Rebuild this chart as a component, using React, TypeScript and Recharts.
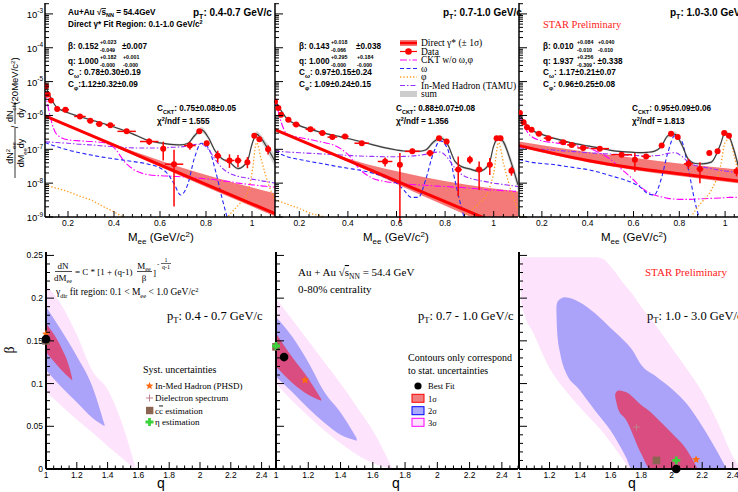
import React from "react";
import { ComposedChart, Line, Area, Scatter, XAxis, YAxis, ErrorBar } from "recharts";

const SANS = "'Liberation Sans', Arial, Helvetica, sans-serif";
const SERIF = "'Liberation Serif', 'Times New Roman', serif";

// ---------- top row: dielectron mass spectra (values are log10 of the yield) ----------
const MASS = [0.1, 0.15, 0.2, 0.25, 0.3, 0.35, 0.4, 0.45, 0.5, 0.55, 0.6, 0.63, 0.66, 0.69, 0.72, 0.75, 0.78, 0.81, 0.84, 0.87, 0.9, 0.94, 0.98, 1.0, 1.02, 1.04, 1.07, 1.1];

const SUM_1 = [-5.1, -5.75, -5.92, -6.03, -6.13, -6.23, -6.34, -6.46, -6.6, -6.74, -6.81, -6.84, -6.86, -6.87, -6.83, -6.6, -6.42, -6.65, -7.05, -7.28, -7.37, -7.57, -7.35, -6.85, -6.55, -6.68, -7.0, -7.35];
const CKT_1 = [-5.3, -6.55, -6.72, -6.75, -6.77, -6.8, -6.95, -7.4, -7.65, -7.75, -7.78, -7.79, -7.8, -7.81, -7.82, -7.84, -7.86, -7.88, -7.9, -7.93, -7.95, -8.0, -8.03, -8.05, -8.06, -8.08, -8.1, -8.12];
const TAMU_1 = [-6.78, -6.8, -6.82, -6.85, -6.87, -6.9, -6.92, -6.95, -6.96, -6.96, -6.96, -6.95, -6.94, -6.93, -6.9, -6.86, -6.85, -7.0, -7.3, -7.55, -7.7, -7.8, -7.85, -7.88, -7.9, -7.93, -7.96, -8.0];
const OMEGA_1 = [-6.8, -6.92, -7.02, -7.1, -7.17, -7.23, -7.28, -7.33, -7.38, -7.44, -7.55, -7.7, -8.0, -8.35, -8.05, -7.25, -6.82, -6.95, -7.6, -8.45, -9.2, -10, -10, -10, -10, -10, -10, -10];
const PHI_1 = [-8.05, -8.15, -8.25, -8.38, -8.5, -8.68, -8.85, -9.05, -9.3, -9.6, -10, -10, -10, -10, -10, -10, -10, -10, -9.5, -9.2, -8.95, -8.65, -8.3, -7.7, -6.8, -7.3, -8.0, -8.5];

const SUM_2 = [-5.55, -6.1, -6.3, -6.42, -6.52, -6.6, -6.68, -6.77, -6.86, -6.95, -7.02, -7.05, -7.06, -7.06, -7.02, -6.8, -6.67, -6.85, -7.35, -7.52, -7.58, -7.65, -7.45, -6.9, -6.65, -6.78, -7.35, -8.05];
const CKT_2 = [-5.5, -6.55, -6.65, -6.72, -6.8, -6.9, -7.15, -7.6, -7.85, -7.95, -8.0, -8.02, -8.04, -8.05, -8.06, -8.08, -8.09, -8.1, -8.12, -8.13, -8.15, -8.17, -8.2, -8.2, -8.21, -8.22, -8.23, -8.25];
const TAMU_2 = [-7.05, -7.08, -7.1, -7.12, -7.14, -7.16, -7.18, -7.2, -7.21, -7.22, -7.22, -7.21, -7.2, -7.18, -7.15, -7.1, -7.08, -7.25, -7.55, -7.75, -7.85, -7.92, -7.97, -8.0, -8.02, -8.04, -8.07, -8.1];
const OMEGA_2 = [-7.06, -7.22, -7.3, -7.37, -7.43, -7.5, -7.56, -7.62, -7.7, -7.82, -8.0, -8.2, -8.42, -8.42, -7.9, -7.15, -6.75, -6.98, -7.9, -8.8, -9.5, -10, -10, -10, -10, -10, -10, -10];
const PHI_2 = [-8.49, -8.62, -8.75, -8.9, -9.0, -9.3, -10, -10, -10, -10, -10, -10, -10, -10, -10, -10, -10, -10, -10, -9.1, -8.85, -8.6, -8.2, -7.7, -6.8, -7.4, -8.2, -8.8];

const SUM_3 = [-5.95, -6.4, -6.56, -6.67, -6.76, -6.84, -6.9, -6.96, -7.03, -7.07, -7.09, -7.1, -7.09, -7.06, -6.93, -6.6, -6.55, -6.85, -7.3, -7.42, -7.43, -7.38, -6.85, -6.5, -6.65, -7.05, -7.8, -8.3];
const CKT_3 = [-6.0, -6.6, -6.75, -6.8, -6.85, -6.9, -6.95, -7.1, -7.3, -7.6, -7.9, -8.1, -8.25, -8.35, -8.4, -8.45, -8.47, -8.48, -8.48, -8.47, -8.46, -8.45, -8.44, -8.43, -8.42, -8.42, -8.41, -8.4];
const TAMU_3 = [-6.95, -6.98, -7.0, -7.02, -7.05, -7.07, -7.1, -7.12, -7.14, -7.16, -7.18, -7.19, -7.2, -7.19, -7.17, -7.12, -7.1, -7.2, -7.38, -7.48, -7.52, -7.57, -7.62, -7.64, -7.66, -7.68, -7.7, -7.72];
const OMEGA_3 = [-7.3, -7.38, -7.42, -7.45, -7.5, -7.55, -7.6, -7.68, -7.78, -7.88, -8.0, -8.12, -8.3, -8.35, -7.9, -7.1, -6.6, -6.75, -7.6, -8.6, -9.3, -10, -10, -10, -10, -10, -10, -10];
const PHI_3 = [-8.97, -9.05, -10, -10, -10, -10, -10, -10, -10, -10, -10, -10, -10, -10, -10, -10, -10, -10, -9.2, -8.8, -8.55, -8.2, -7.5, -6.8, -6.7, -7.2, -8.0, -8.6];

// half width (in decades) of the grey uncertainty band on the sum
const SUM_BAND = [0.04, 0.03, 0.03, 0.03, 0.03, 0.03, 0.03, 0.03, 0.03, 0.03, 0.03, 0.03, 0.03, 0.03, 0.04, 0.06, 0.08, 0.07, 0.05, 0.04, 0.04, 0.04, 0.05, 0.07, 0.08, 0.1, 0.14, 0.18];

// direct virtual photon fit: central line and 1 sigma band
const DIR_M_1 = [0.1, 0.4, 0.7, 1.1];
const DIR_1 = [-6.01, -6.88, -7.75, -8.9];
const DIR_HI_1 = [-5.99, -6.84, -7.55, -8.3];
const DIR_LO_1 = [-6.03, -6.91, -7.82, -8.98];
const DIR_M_2 = [0.1, 0.4, 0.7, 1.1];
const DIR_2 = [-6.42, -7.33, -8.24, -9.45];
const DIR_HI_2 = [-6.4, -7.27, -7.8, -8.25];
const DIR_LO_2 = [-6.44, -7.37, -8.35, -9.6];
const DIR_M_3 = [0.1, 0.25, 0.4, 0.6, 0.8, 1.1];
const DIR_3 = [-6.89, -7.12, -7.33, -7.55, -7.72, -7.97];
const DIR_HI_3 = [-6.77, -6.93, -7.08, -7.25, -7.42, -7.62];
const DIR_LO_3 = [-6.93, -7.17, -7.38, -7.61, -7.79, -8.04];

// data points: mass, log10 yield, bin half width, error bar ends (decades below / above)
const DATA_M_1 = [0.104, 0.112, 0.126, 0.153, 0.189, 0.252, 0.297, 0.336, 0.384, 0.455, 0.553, 0.614, 0.661, 0.73, 0.771, 0.803, 0.851, 0.902, 0.939, 0.98, 1.01, 1.032, 1.07];
const DATA_1 = [-5.14, -5.38, -5.56, -5.81, -5.83, -6.03, -6.16, -6.25, -6.29, -6.47, -6.77, -6.98, -7.44, -6.89, -6.47, -6.82, -7.19, -7.33, -7.33, -7.38, -6.6, -6.7, -7.0];
const DATA_DM_1 = [0.004, 0.004, 0.006, 0.01, 0.015, 0.025, 0.015, 0.015, 0.02, 0.04, 0.04, 0.005, 0.04, 0.025, 0.005, 0.008, 0.015, 0.02, 0.015, 0.01, 0.005, 0.005, 0.01];
const DATA_ELO_1 = [0.03, 0.03, 0.03, 0.03, 0.03, 0.04, 0.05, 0.05, 0.05, 0.06, 0.1, 0.35, 1.25, 0.12, 0.05, 0.08, 0.2, 0.22, 0.2, 0.18, 0.05, 0.05, 0.15];
const DATA_EHI_1 = [0.03, 0.03, 0.03, 0.03, 0.03, 0.04, 0.05, 0.05, 0.05, 0.06, 0.09, 0.2, 0.43, 0.1, 0.05, 0.07, 0.15, 0.18, 0.16, 0.15, 0.05, 0.05, 0.12];

const DATA_M_2 = [0.1, 0.114, 0.125, 0.155, 0.187, 0.246, 0.295, 0.336, 0.388, 0.457, 0.553, 0.614, 0.665, 0.738, 0.775, 0.806, 0.854, 0.902, 0.94, 0.984, 1.012, 1.028, 1.073];
const DATA_2 = [-5.59, -5.78, -5.98, -6.13, -6.27, -6.41, -6.52, -6.64, -6.62, -6.82, -7.36, -7.46, -7.06, -7.11, -6.67, -6.77, -7.6, -7.31, -7.6, -7.46, -6.67, -6.67, -7.63];
const DATA_DM_2 = [0.003, 0.005, 0.006, 0.012, 0.015, 0.02, 0.015, 0.02, 0.015, 0.03, 0.03, 0.005, 0.03, 0.015, 0.008, 0.008, 0.015, 0.01, 0.015, 0.01, 0.005, 0.005, 0.01];
const DATA_ELO_2 = [0.03, 0.03, 0.03, 0.03, 0.03, 0.03, 0.04, 0.04, 0.04, 0.05, 0.15, 1.7, 0.08, 0.1, 0.05, 0.06, 0.79, 0.12, 0.6, 0.3, 0.05, 0.05, 0.15];
const DATA_EHI_2 = [0.03, 0.03, 0.03, 0.03, 0.03, 0.03, 0.04, 0.04, 0.04, 0.05, 0.12, 0.35, 0.08, 0.08, 0.05, 0.06, 0.39, 0.12, 0.24, 0.2, 0.05, 0.05, 0.12];

const DATA_M_3 = [0.104, 0.12, 0.135, 0.155, 0.187, 0.228, 0.293, 0.33, 0.38, 0.453, 0.548, 0.606, 0.655, 0.723, 0.764, 0.793, 0.84, 0.89, 0.931, 0.967, 0.996, 1.017, 1.05];
const DATA_3 = [-5.93, -6.2, -6.35, -6.42, -6.54, -6.67, -6.79, -6.87, -6.96, -6.98, -7.16, -7.31, -7.21, -6.89, -6.54, -6.64, -7.43, -7.58, -7.11, -7.06, -6.52, -6.6, -7.65];
const DATA_DM_3 = [0.003, 0.005, 0.006, 0.01, 0.015, 0.02, 0.02, 0.02, 0.025, 0.04, 0.045, 0.005, 0.02, 0.01, 0.01, 0.01, 0.02, 0.015, 0.008, 0.008, 0.005, 0.005, 0.008];
const DATA_ELO_3 = [0.03, 0.03, 0.03, 0.03, 0.03, 0.03, 0.03, 0.03, 0.03, 0.04, 0.05, 0.35, 0.06, 0.05, 0.05, 0.05, 0.15, 0.42, 0.06, 0.06, 0.05, 0.05, 0.15];
const DATA_EHI_3 = [0.03, 0.03, 0.03, 0.03, 0.03, 0.03, 0.03, 0.03, 0.03, 0.04, 0.05, 0.2, 0.06, 0.05, 0.05, 0.05, 0.15, 0.2, 0.06, 0.06, 0.05, 0.05, 0.12];

// ---------- bottom row: beta vs q confidence contours ----------
const S3_Q_1 = [1.0, 1.1, 1.2, 1.3, 1.4, 1.5, 1.58];
const S3_LO_1 = [0.09, 0.074, 0.058, 0.043, 0.027, 0.012, 0.0];
const S3_HI_1 = [0.215, 0.192, 0.157, 0.115, 0.093, 0.05, 0.002];
const S2_Q_1 = [1.0, 1.1, 1.2, 1.3, 1.38];
const S2_LO_1 = [0.116, 0.096, 0.078, 0.06, 0.05];
const S2_HI_1 = [0.19, 0.162, 0.132, 0.097, 0.052];
const S1_Q_1 = [1.0, 1.05, 1.1, 1.15, 1.17];
const S1_LO_1 = [0.137, 0.126, 0.116, 0.107, 0.104];
const S1_HI_1 = [0.17, 0.158, 0.142, 0.12, 0.106];

const S3_Q_2 = [1.0, 1.1, 1.2, 1.3, 1.4, 1.5, 1.6, 1.72];
const S3_LO_2 = [0.1, 0.08, 0.062, 0.045, 0.03, 0.017, 0.007, 0];
const S3_HI_2 = [0.2, 0.175, 0.15, 0.125, 0.1, 0.073, 0.045, 0.001];
const S2_Q_2 = [1.0, 1.1, 1.2, 1.3, 1.4, 1.5];
const S2_LO_2 = [0.108, 0.09, 0.071, 0.054, 0.04, 0.033];
const S2_HI_2 = [0.178, 0.155, 0.125, 0.09, 0.066, 0.036];
const S1_Q_2 = [1.0, 1.1, 1.2, 1.28];
const S1_LO_2 = [0.12, 0.101, 0.087, 0.08];
const S1_HI_2 = [0.159, 0.131, 0.106, 0.082];

const S3_Q_3 = [1.01, 1.015, 1.1, 1.2, 1.3, 1.4, 1.5, 1.55, 1.6, 1.7, 1.72, 1.8, 1.9, 2.0, 2.1, 2.2, 2.3, 2.4, 2.45];
const S3_LO_3 = [0.247, 0.195, 0.157, 0.118, 0.093, 0.072, 0.053, 0.043, 0.031, 0.006, 0, 0, 0, 0, 0, 0, 0, 0, 0];
const S3_HI_3 = [0.248, 0.248, 0.248, 0.248, 0.248, 0.248, 0.248, 0.246, 0.237, 0.214, 0.21, 0.19, 0.167, 0.142, 0.117, 0.09, 0.055, 0.015, 0];
const S2_Q_3 = [1.245, 1.25, 1.27, 1.3, 1.4, 1.5, 1.6, 1.7, 1.74, 1.8, 1.9, 2.0, 2.1, 2.2, 2.3, 2.36];
const S2_LO_3 = [0.185, 0.16, 0.135, 0.116, 0.092, 0.068, 0.045, 0.014, 0, 0, 0, 0, 0, 0, 0, 0];
const S2_HI_3 = [0.19, 0.195, 0.199, 0.201, 0.195, 0.182, 0.165, 0.148, 0.14, 0.122, 0.108, 0.094, 0.076, 0.05, 0.02, 0];
const S1_Q_3 = [1.63, 1.65, 1.7, 1.8, 1.86, 1.9, 2.0, 2.1, 2.17];
const S1_LO_3 = [0.085, 0.07, 0.058, 0.018, 0, 0, 0, 0, 0];
const S1_HI_3 = [0.088, 0.092, 0.09, 0.075, 0.067, 0.06, 0.042, 0.022, 0];

// markers [q, beta] per pT bin
const BEST = [[1.0, 0.152], [1.05, 0.131], [2.03, 0.0]];
const PHSD = [[1.0, 0.158], [1.18, 0.104], [2.16, 0.011]];
const DIEL = [[], [], [1.77, 0.049]];
const CCBAR = [[1.0, 0.15], [1.0, 0.143], [1.9, 0.01]];
const ETA = [[], [1.0, 0.144], [2.03, 0.01]];

// ---------- axis ticks ----------
const steps = (a: number, n: number, s: number) => Array.from({ length: n }, (_, k) => Math.round((a + k * s) * 1e6) / 1e6);
const LOG_MAJOR = [1e-9, 1e-8, 1e-7, 1e-6, 1e-5, 1e-4, 1e-3];
const LOG_TICKS = LOG_MAJOR.flatMap((d) => [1, 2, 3, 4, 5, 6, 7, 8, 9].map((k) => k * d)).filter((v) => v <= 2.1e-3);
const M_MAJOR = [0.2, 0.4, 0.6, 0.8, 1.0];
const M_TICKS = steps(0.12, 25, 0.04);
const Q_DOMAIN = [1, 2.5];
const Q_MAJOR = [1, 1.2, 1.4, 1.6, 1.8, 2, 2.2, 2.4];
const Q_TICKS = steps(1, 31, 0.05);
const B_MAJOR = [0, 0.05, 0.1, 0.15, 0.2, 0.25];
const B_TICKS = steps(0, 26, 0.01);

const pw = (v: number) => Math.pow(10, v);
const curve = (xs: number[], ys: number[]) => xs.map((m, i) => ({ m, v: pw(ys[i]) }));
const band = (xs: number[], lo: number[], hi: number[]) => xs.map((m, i) => ({ m, r: [pw(lo[i]), pw(hi[i])] }));
const sumBand = (ys: number[]) => MASS.map((m, i) => ({ m, r: [pw(ys[i] - SUM_BAND[i]), pw(ys[i] + SUM_BAND[i])] }));
const points = (ms: number[], vs: number[], dm: number[], lo: number[], hi: number[]) =>
  ms.map((m, i) => ({ m, v: pw(vs[i]), ex: dm[i], ey: [pw(vs[i]) - pw(vs[i] - lo[i]), pw(vs[i] + hi[i]) - pw(vs[i])] }));
const region = (qs: number[], lo: number[], hi: number[]) => qs.map((q, i) => ({ q, r: [lo[i], hi[i]] }));
const marks = (arr: number[][], i: number) => (arr[i].length ? [{ q: arr[i][0], b: arr[i][1] }] : []);

const near = (a: number, b: number) => Math.abs(a - b) <= Math.abs(a) * 1e-6 + 1e-12;

type Side = "left" | "right" | "top" | "bottom";
function tickFn(side: Side, majors: number[], big: number, small: number, label?: (v: number, x: number, y: number) => React.ReactNode) {
  return (props: any) => {
    const { x, y, payload } = props;
    const v = Number(payload.value);
    const major = majors.some((t) => near(t, v));
    const L = major ? big : small;
    const dx = side === "left" ? L : side === "right" ? -L : 0;
    const dy = side === "bottom" ? -L : side === "top" ? L : 0;
    return (
      <g>
        <line x1={x} y1={y} x2={x + dx} y2={y + dy} stroke="#000" strokeWidth={1} />
        {major && label ? label(v, x, y) : null}
      </g>
    );
  };
}

const logLabel = (v: number, x: number, y: number) => (
  <text x={x - 2} y={y + 4} textAnchor="end" fontSize={9.5} fontFamily={SANS} fill="#000">
    10<tspan dy={-4.5} fontSize={6.5}>{Math.round(Math.log10(v))}</tspan>
  </text>
);
const numLabelX = (v: number, x: number, y: number) => (
  <text x={x} y={y + 8.5} textAnchor="middle" fontSize={8.5} fontFamily={SANS} fill="#000">{String(v)}</text>
);
const numLabelY = (v: number, x: number, y: number) => (
  <text x={x - 3} y={y + 3} textAnchor="end" fontSize={8.5} fontFamily={SANS} fill="#000">{String(v)}</text>
);

const logTickL = tickFn("left", LOG_MAJOR, 8, 4, logLabel);
const logTick = tickFn("left", LOG_MAJOR, 8, 4);
const mTick = tickFn("bottom", M_MAJOR, 6, 3, numLabelX);
const mTopTick = tickFn("top", M_MAJOR, 6, 3);
const qTick = tickFn("bottom", Q_MAJOR, 7, 3.5);
const bTickL = tickFn("left", B_MAJOR, 8, 4, numLabelY);
const bTick = tickFn("left", B_MAJOR, 8, 4);
const bTickR = tickFn("right", B_MAJOR, 8, 4);

const COL = { band: "#f47a7a", sumBand: "#cdcdcd", ckt: "#ff00ff", omega: "#2424ff", phi: "#ff9a1a", tamu: "#9a30ff", sum: "#3c3c3c" };
const DASH = { ckt: "7 2 1.5 2", omega: "4 2.5", phi: "1.3 2", tamu: "5 2 1.5 2" };

// yw: room on the left of each plot (labels for the first panel, slack for the others)
const TOP = [
  { left: 0, yw: 45, pw: 230, labels: true, sum: SUM_1, ckt: CKT_1, tamu: TAMU_1, omega: OMEGA_1, phi: PHI_1, dm: DIR_M_1, d: DIR_1, dh: DIR_HI_1, dl: DIR_LO_1, pts: points(DATA_M_1, DATA_1, DATA_DM_1, DATA_ELO_1, DATA_EHI_1) },
  { left: 265, yw: 10, pw: 243, labels: false, sum: SUM_2, ckt: CKT_2, tamu: TAMU_2, omega: OMEGA_2, phi: PHI_2, dm: DIR_M_2, d: DIR_2, dh: DIR_HI_2, dl: DIR_LO_2, pts: points(DATA_M_2, DATA_2, DATA_DM_2, DATA_ELO_2, DATA_EHI_2) },
  { left: 509, yw: 10, pw: 229, labels: false, sum: SUM_3, ckt: CKT_3, tamu: TAMU_3, omega: OMEGA_3, phi: PHI_3, dm: DIR_M_3, d: DIR_3, dh: DIR_HI_3, dl: DIR_LO_3, pts: points(DATA_M_3, DATA_3, DATA_DM_3, DATA_ELO_3, DATA_EHI_3) },
];

const BOTTOM = [
  { left: 0, yw: 46, pw: 231, labels: true, right: false, s3: region(S3_Q_1, S3_LO_1, S3_HI_1), s2: region(S2_Q_1, S2_LO_1, S2_HI_1), s1: region(S1_Q_1, S1_LO_1, S1_HI_1) },
  { left: 266, yw: 10, pw: 242, labels: false, right: true, s3: region(S3_Q_2, S3_LO_2, S3_HI_2), s2: region(S2_Q_2, S2_LO_2, S2_HI_2), s1: region(S1_Q_2, S1_LO_2, S1_HI_2) },
  { left: 509, yw: 10, pw: 229, labels: false, right: false, s3: region(S3_Q_3, S3_LO_3, S3_HI_3), s2: region(S2_Q_3, S2_LO_3, S2_HI_3), s1: region(S1_Q_3, S1_LO_3, S1_HI_3) },
];

const dataDot = (p: any) => <circle cx={p.cx} cy={p.cy} r={3} fill="#ff0000" />;

const starPath = (cx: number, cy: number, R: number) => {
  let d = "";
  for (let i = 0; i < 10; i++) {
    const r = i % 2 === 0 ? R : R * 0.45;
    const a = -Math.PI / 2 + (i * Math.PI) / 5;
    d += (i === 0 ? "M" : "L") + (cx + r * Math.cos(a)).toFixed(2) + "," + (cy + r * Math.sin(a)).toFixed(2);
  }
  return d + "Z";
};
const StarShape = (p: any) => <path d={starPath(p.cx, p.cy, 4.2)} fill="#ff6a10" />;
const BestShape = (p: any) => <circle cx={p.cx} cy={p.cy} r={4.3} fill="#000" />;
const SquareShape = (p: any) => <rect x={p.cx - 3.8} y={p.cy - 3.8} width={7.6} height={7.6} fill="#8c6452" />;
const CrossShape = (p: any) => (
  <path d={`M${p.cx - 4},${p.cy - 1.4}h2.6v-2.6h2.8v2.6h2.6v2.8h-2.6v2.6h-2.8v-2.6h-2.6z`} fill="#3cd23c" />
);
const PlusShape = (p: any) => (
  <path d={`M${p.cx - 3.5},${p.cy}h7M${p.cx},${p.cy - 3.5}v7`} stroke="#c0808c" strokeWidth={1} />
);

function TopPanel({ c }: { c: (typeof TOP)[number] }) {
  return (
    <div style={{ position: "absolute", left: c.left, top: 0 }}>
      <ComposedChart width={c.yw + c.pw} height={247} margin={{ top: 3, right: 0, bottom: 0, left: 0 }}>
        <XAxis type="number" dataKey="m" domain={[0.1, 1.1]} allowDataOverflow ticks={M_TICKS} interval={0}
          tickSize={0} tickMargin={0} tickLine={false} axisLine={{ stroke: "#000", strokeWidth: 1.5 }} height={30} tick={mTick} />
        <XAxis xAxisId="top" orientation="top" type="number" domain={[0.1, 1.1]} allowDataOverflow ticks={M_TICKS} interval={0}
          tickSize={0} tickMargin={0} tickLine={false} axisLine={{ stroke: "#777", strokeWidth: 3 }} height={0} tick={mTopTick} />
        <YAxis type="number" scale="log" domain={[1e-9, 2.1e-3]} allowDataOverflow ticks={LOG_TICKS} interval={0}
          tickSize={0} tickMargin={0} tickLine={false} axisLine={{ stroke: "#000", strokeWidth: 1.5 }} width={c.yw}
          tick={c.labels ? logTickL : logTick} />
        <Area data={band(c.dm, c.dl, c.dh)} dataKey="r" type="monotone" stroke="none" fill={COL.band} fillOpacity={1} isAnimationActive={false} />
        <Area data={sumBand(c.sum)} dataKey="r" type="monotone" stroke="none" fill={COL.sumBand} fillOpacity={0.8} isAnimationActive={false} />
        <Line data={curve(MASS, c.ckt)} dataKey="v" type="monotone" stroke={COL.ckt} strokeWidth={1.1} strokeDasharray={DASH.ckt} dot={false} isAnimationActive={false} />
        <Line data={curve(MASS, c.omega)} dataKey="v" type="monotone" stroke={COL.omega} strokeWidth={1.1} strokeDasharray={DASH.omega} dot={false} isAnimationActive={false} />
        <Line data={curve(MASS, c.phi)} dataKey="v" type="monotone" stroke={COL.phi} strokeWidth={1.3} strokeDasharray={DASH.phi} dot={false} isAnimationActive={false} />
        <Line data={curve(MASS, c.tamu)} dataKey="v" type="monotone" stroke={COL.tamu} strokeWidth={1.1} strokeDasharray={DASH.tamu} dot={false} isAnimationActive={false} />
        <Line data={curve(c.dm, c.d)} dataKey="v" type="monotone" stroke="#ff0000" strokeWidth={3} dot={false} isAnimationActive={false} />
        <Line data={curve(MASS, c.sum)} dataKey="v" type="monotone" stroke={COL.sum} strokeWidth={1.2} dot={false} isAnimationActive={false} />
        <Scatter data={c.pts} dataKey="v" shape={dataDot} isAnimationActive={false}>
          <ErrorBar dataKey="ey" direction="y" width={0} stroke="#ff0000" strokeWidth={1.5} />
          <ErrorBar dataKey="ex" direction="x" width={0} stroke="#ff0000" strokeWidth={1.5} />
        </Scatter>
      </ComposedChart>
    </div>
  );
}

function BottomPanel({ c, i }: { c: (typeof BOTTOM)[number]; i: number }) {
  return (
    <div style={{ position: "absolute", left: c.left, top: 245 }}>
      <ComposedChart width={c.yw + c.pw} height={247} margin={{ top: 7, right: 0, bottom: 0, left: 0 }}>
        <XAxis type="number" dataKey="q" domain={Q_DOMAIN} ticks={Q_TICKS} interval={0} tickSize={0} tickMargin={0}
          tickLine={false} axisLine={{ stroke: "#000", strokeWidth: 2 }} height={23} tick={qTick} />
        <XAxis xAxisId="top" orientation="top" type="number" domain={Q_DOMAIN} tick={false} tickLine={false}
          axisLine={{ stroke: "#000", strokeWidth: 1.5 }} height={0} />
        <YAxis type="number" domain={[0, 0.254]} ticks={B_TICKS} interval={0} tickSize={0} tickMargin={0} tickLine={false}
          axisLine={{ stroke: "#000", strokeWidth: 2 }} width={c.yw} tick={c.labels ? bTickL : bTick} />
        {c.right ? (
          <YAxis yAxisId="right" orientation="right" type="number" domain={[0, 0.254]} ticks={B_TICKS} interval={0}
            tickSize={0} tickMargin={0} tickLine={false} axisLine={{ stroke: "#000", strokeWidth: 1.5 }} width={0} tick={bTickR} />
        ) : null}
        <Area data={c.s3} dataKey="r" type="monotone" stroke="none" fill="#fde3fb" fillOpacity={1} isAnimationActive={false} />
        <Area data={c.s2} dataKey="r" type="monotone" stroke="none" fill="#aaa3f9" fillOpacity={1} isAnimationActive={false} />
        <Area data={c.s1} dataKey="r" type="monotone" stroke="none" fill="#d94d80" fillOpacity={1} isAnimationActive={false} />
        <Scatter data={marks(CCBAR, i)} dataKey="b" shape={SquareShape} isAnimationActive={false} />
        <Scatter data={marks(DIEL, i)} dataKey="b" shape={PlusShape} isAnimationActive={false} />
        <Scatter data={marks(PHSD, i)} dataKey="b" shape={StarShape} isAnimationActive={false} />
        <Scatter data={marks(ETA, i)} dataKey="b" shape={CrossShape} isAnimationActive={false} />
        <Scatter data={marks(BEST, i)} dataKey="b" shape={BestShape} isAnimationActive={false} />
      </ComposedChart>
    </div>
  );
}

function T(props: any) {
  const { x, y, s, b, serif, fill = "#000", anchor = "start", rot, children } = props;
  return (
    <text x={x} y={y} fontSize={s} fontWeight={b ? "bold" : "normal"} fontFamily={serif ? SERIF : SANS} fill={fill}
      textAnchor={anchor} transform={rot ? `rotate(${rot} ${x} ${y})` : undefined}>
      {children}
    </text>
  );
}

function Stack({ x, y, up, dn }: { x: number; y: number; up: string; dn: string }) {
  return (
    <>
      <T x={x} y={y - 5.5} s={5.3} b>{up}</T>
      <T x={x} y={y + 3} s={5.3} b>{dn}</T>
    </>
  );
}

function Sub({ base, sub, rest, d = 2.5, s }: { base: string; sub: string; rest: string; d?: number; s: number }) {
  return (
    <>
      {base}
      <tspan dy={d} fontSize={s}>{sub}</tspan>
      <tspan dy={-d}>{rest}</tspan>
    </>
  );
}

// q tick labels under each contour panel, placed on the same linear q axis as the chart above
function QLabels() {
  return (
    <>
      {BOTTOM.map((c) =>
        Q_MAJOR.map((q) => (
          <T key={c.left + "-" + q} x={c.left + c.yw + ((q - Q_DOMAIN[0]) / (Q_DOMAIN[1] - Q_DOMAIN[0])) * c.pw} y={477.5} s={8.5} anchor="middle">
            {String(q)}
          </T>
        ))
      )}
    </>
  );
}

function Overlay() {
  const F = 8.2;
  return (
    <svg width={738} height={492} style={{ position: "absolute", left: 0, top: 0, zIndex: 10, pointerEvents: "none" }}>
      {/* y title, top row */}
      <T x={13} y={153} s={9} anchor="middle" rot={-90}>dN<tspan dy={-3.5} fontSize={6}>2</tspan><tspan dy={6} fontSize={6}>ee</tspan></T>
      <line x1={15} y1={178} x2={15} y2={128} stroke="#000" strokeWidth={0.8} />
      <T x={24} y={153} s={9} anchor="middle" rot={-90}>dM<tspan dy={2.5} fontSize={6}>ee</tspan><tspan dy={-2.5}>dy</tspan></T>
      <T x={18} y={127} s={9} anchor="middle" rot={-90}>/</T>
      <T x={13} y={113} s={9} anchor="middle" rot={-90}>dN<tspan dy={2.5} fontSize={6}>ch</tspan></T>
      <line x1={15} y1={124} x2={15} y2={102} stroke="#000" strokeWidth={0.8} />
      <T x={24} y={113} s={9} anchor="middle" rot={-90}>dy</T>
      <T x={18} y={81} s={9.5} anchor="middle" rot={-90}>(20MeV/c<tspan dy={-3} fontSize={6}>2</tspan><tspan dy={3}>)</tspan></T>

      {/* x titles, top row */}
      {[128, 363, 601].map((x) => (
        <T key={x} x={x} y={241} s={11.5}><Sub base="M" sub="ee" rest=" (GeV/c" s={8} d={3} /><tspan dy={-4} fontSize={8}>2</tspan><tspan dy={4}>)</tspan></T>
      ))}

      {/* panel 1 text */}
      <T x={68} y={15} s={F} b>Au+Au √<tspan style={{ textDecoration: "overline" }}>s</tspan><tspan dy={2} fontSize={5.5}>NN</tspan><tspan dy={-2}> = 54.4GeV</tspan></T>
      <T x={193} y={16} s={10} b><Sub base="p" sub="T" rest=": 0.4-0.7 GeV/c" s={7} d={3} /></T>
      <T x={68} y={27} s={F} b>Direct γ* Fit Region: 0.1-1.0 GeV/c<tspan dy={-3} fontSize={5.5}>2</tspan></T>
      <T x={68} y={49} s={F} b>β: 0.152</T>
      <Stack x={100} y={49} up="+0.023" dn="-0.049" />
      <T x={122} y={49} s={F} b>±0.007</T>
      <T x={68} y={64} s={F} b>q: 1.000</T>
      <Stack x={100} y={64} up="+0.182" dn="-0.000" />
      <Stack x={123} y={64} up="+0.001" dn="-0.000" />
      <T x={68} y={75} s={F} b><Sub base="C" sub="ω" rest=": 0.78±0.30±0.19" s={6} /></T>
      <T x={68} y={87} s={F} b><Sub base="C" sub="φ" rest=":1.12±0.32±0.09" s={6} /></T>
      <T x={157} y={111} s={F} b><Sub base="C" sub="CKT" rest=": 0.75±0.08±0.05" s={5.5} /></T>
      <T x={157} y={124} s={F} b>χ<tspan dy={-3} fontSize={5.5}>2</tspan><tspan dy={3}>/ndf = 1.555</tspan></T>

      {/* panel 2 text */}
      <T x={443} y={16} s={10} b><Sub base="p" sub="T" rest=": 0.7-1.0 GeV/c" s={7} d={3} /></T>
      <T x={299} y={49} s={F} b>β: 0.143</T>
      <Stack x={331} y={49} up="+0.018" dn="-0.066" />
      <T x={356} y={49} s={F} b>±0.038</T>
      <T x={299} y={64} s={F} b>q: 1.000</T>
      <Stack x={331} y={64} up="+0.295" dn="-0.000" />
      <Stack x={357} y={64} up="+0.184" dn="-0.000" />
      <T x={299} y={75} s={F} b><Sub base="C" sub="ω" rest=": 0.97±0.15±0.24" s={6} /></T>
      <T x={299} y={87} s={F} b><Sub base="C" sub="φ" rest=": 1.09±0.24±0.15" s={6} /></T>
      <T x={396} y={111} s={F} b><Sub base="C" sub="CKT" rest=": 0.88±0.07±0.08" s={5.5} /></T>
      <T x={396} y={124} s={F} b>χ<tspan dy={-3} fontSize={5.5}>2</tspan><tspan dy={3}>/ndf = 1.356</tspan></T>

      {/* legend, panel 2 */}
      <rect x={400} y={40} width={17} height={6} fill={COL.band} />
      <line x1={400} x2={417} y1={43} y2={43} stroke="#ff0000" strokeWidth={2.5} />
      <line x1={400} x2={417} y1={51.5} y2={51.5} stroke="#ff0000" strokeWidth={1.2} />
      <circle cx={408.5} cy={51.5} r={3.3} fill="#ff0000" />
      <line x1={400} x2={417} y1={60} y2={60} stroke={COL.ckt} strokeWidth={1.1} strokeDasharray={DASH.ckt} />
      <line x1={400} x2={417} y1={68.5} y2={68.5} stroke={COL.omega} strokeWidth={1.1} strokeDasharray={DASH.omega} />
      <line x1={400} x2={417} y1={77} y2={77} stroke={COL.phi} strokeWidth={1.3} strokeDasharray={DASH.phi} />
      <line x1={400} x2={417} y1={85.5} y2={85.5} stroke={COL.tamu} strokeWidth={1.1} strokeDasharray={DASH.tamu} />
      <rect x={400} y={91} width={17} height={6} fill={COL.sumBand} />
      <T x={421} y={46} s={9.5} serif>Direct γ* (± 1σ)</T>
      <T x={421} y={54.5} s={9.5} serif>Data</T>
      <T x={421} y={63} s={9.5} serif>CKT w/o ω,φ</T>
      <T x={421} y={71.5} s={9.5} serif>ω</T>
      <T x={421} y={80} s={9.5} serif>φ</T>
      <T x={421} y={88.5} s={9.5} serif>In-Med Hadron (TAMU)</T>
      <T x={421} y={97} s={9.5} serif>sum</T>

      {/* panel 3 text */}
      <T x={670} y={16} s={10} b><Sub base="p" sub="T" rest=": 1.0-3.0 GeV/c" s={7} d={3} /></T>
      <T x={543} y={28} s={10.5} serif fill="#ff1a1a">STAR Preliminary</T>
      <T x={543} y={49} s={F} b>β: 0.010</T>
      <Stack x={577} y={49} up="+0.084" dn="-0.010" />
      <Stack x={598} y={49} up="+0.040" dn="-0.010" />
      <T x={543} y={64} s={F} b>q: 1.937</T>
      <Stack x={577} y={64} up="+0.256" dn="-0.309" />
      <T x={593} y={64} s={F} b>. ±0.338</T>
      <T x={543} y={75} s={F} b><Sub base="C" sub="ω" rest=": 1.17±0.21±0.07" s={6} /></T>
      <T x={543} y={87} s={F} b><Sub base="C" sub="φ" rest=": 0.96±0.25±0.08" s={6} /></T>
      <T x={632} y={111} s={F} b><Sub base="C" sub="CKT" rest=": 0.95±0.09±0.06" s={5.5} /></T>
      <T x={632} y={124} s={F} b>χ<tspan dy={-3} fontSize={5.5}>2</tspan><tspan dy={3}>/ndf = 1.813</tspan></T>

      {/* bottom row axis labels and titles */}
      <QLabels />
      <T x={14} y={350} s={14} serif anchor="middle" rot={-90}>β</T>
      {[161, 396, 632].map((x) => (
        <T key={x} x={x} y={488} s={14} anchor="middle">q</T>
      ))}

      {/* bottom panel 1 */}
      <T x={63} y={269} s={9} serif anchor="middle">dN</T>
      <line x1={55} x2={72} y1={271.5} y2={271.5} stroke="#000" strokeWidth={0.7} />
      <T x={63} y={281} s={9} serif anchor="middle"><Sub base="dM" sub="ee" rest="" s={6} d={2} /></T>
      <T x={75} y={275} s={9} serif>= C * [1 + (q-1)</T>
      <T x={144} y={268.5} s={9} serif anchor="middle"><Sub base="M" sub="ee" rest="" s={6} d={2} /></T>
      <line x1={137} x2={152} y1={271.5} y2={271.5} stroke="#000" strokeWidth={0.7} />
      <T x={144} y={281} s={9} serif anchor="middle">β</T>
      <T x={153} y={276} s={9} serif>]</T>
      <T x={157} y={266} s={7} serif>-</T>
      <T x={166} y={262} s={6} serif anchor="middle">1</T>
      <line x1={161} x2={171} y1={263.5} y2={263.5} stroke="#000" strokeWidth={0.6} />
      <T x={166} y={269} s={6} serif anchor="middle">q-1</T>
      <T x={56} y={295} s={9.5} serif><Sub base="γ" sub="dir" rest=" fit region: 0.1 < M" s={6.5} /><tspan dy={2.5} fontSize={6.5}>ee</tspan><tspan dy={-2.5}> &lt; 1.0 GeV/c</tspan><tspan dy={-3.5} fontSize={6.5}>2</tspan></T>
      <T x={167} y={320} s={12.5} serif><Sub base="p" sub="T" rest=": 0.4 - 0.7 GeV/c" s={8.5} d={3} /></T>
      <T x={143} y={372.5} s={10} serif>Syst. uncertainties</T>
      <path d={starPath(149.5, 386, 4)} fill="#ff6a10" />
      <path d={`M146,398h7M149.5,394.5v7`} stroke="#c0808c" strokeWidth={1} />
      <rect x={146} y={406.8} width={7.4} height={7.4} fill="#8c6452" />
      <path d={`M145.5,420.6h2.6v-2.6h2.8v2.6h2.6v2.8h-2.6v2.6h-2.8v-2.6h-2.6z`} fill="#3cd23c" />
      <T x={155} y={389} s={9} serif>In-Med Hadron (PHSD)</T>
      <T x={155} y={401} s={9} serif>Dielectron spectrum</T>
      <T x={155} y={413.5} s={9} serif>c<tspan style={{ textDecoration: "overline" }}>c</tspan> estimation</T>
      <T x={155} y={425} s={9} serif>η estimation</T>

      {/* bottom panel 2 */}
      <T x={298} y={276} s={11} serif>Au + Au √<tspan style={{ textDecoration: "overline" }}>s</tspan><tspan dy={2.5} fontSize={7.5}>NN</tspan><tspan dy={-2.5}> = 54.4 GeV</tspan></T>
      <T x={298} y={293} s={11} serif>0-80% centrality</T>
      <T x={418} y={320} s={12.5} serif><Sub base="p" sub="T" rest=": 0.7 - 1.0 GeV/c" s={8.5} d={3} /></T>
      <T x={408} y={361} s={10} serif>Contours only correspond</T>
      <T x={408} y={373.5} s={10} serif>to stat. uncertainties</T>
      <circle cx={418} cy={386} r={3.6} fill="#000" />
      <rect x={412} y={394.3} width={12} height={8} fill="#f08080" stroke="#ff0000" strokeWidth={1} />
      <rect x={412} y={406.7} width={12} height={8} fill="#aaaaff" stroke="#0000ff" strokeWidth={1} />
      <rect x={412} y={418.3} width={12} height={8} fill="#ffe0ff" stroke="#ff00ff" strokeWidth={1} />
      <T x={428} y={389} s={8.5} serif>Best Fit</T>
      <T x={428} y={401.5} s={8.5} serif>1σ</T>
      <T x={428} y={413.5} s={8.5} serif>2σ</T>
      <T x={428} y={425.5} s={8.5} serif>3σ</T>

      {/* bottom panel 3 */}
      <T x={645} y={276} s={11} serif fill="#ff1a1a">STAR Preliminary</T>
      <T x={647} y={320} s={12.5} serif><Sub base="p" sub="T" rest=": 1.0 - 3.0 GeV/c" s={8.5} d={3} /></T>
    </svg>
  );
}

export default function App() {
  return (
    <div style={{ position: "absolute", left: 0, top: 0, width: 738, height: 492, overflow: "hidden", background: "#fff" }}>
      {TOP.map((c, i) => (
        <TopPanel key={"t" + i} c={c} />
      ))}
      {BOTTOM.map((c, i) => (
        <BottomPanel key={"b" + i} c={c} i={i} />
      ))}
      <Overlay />
    </div>
  );
}
